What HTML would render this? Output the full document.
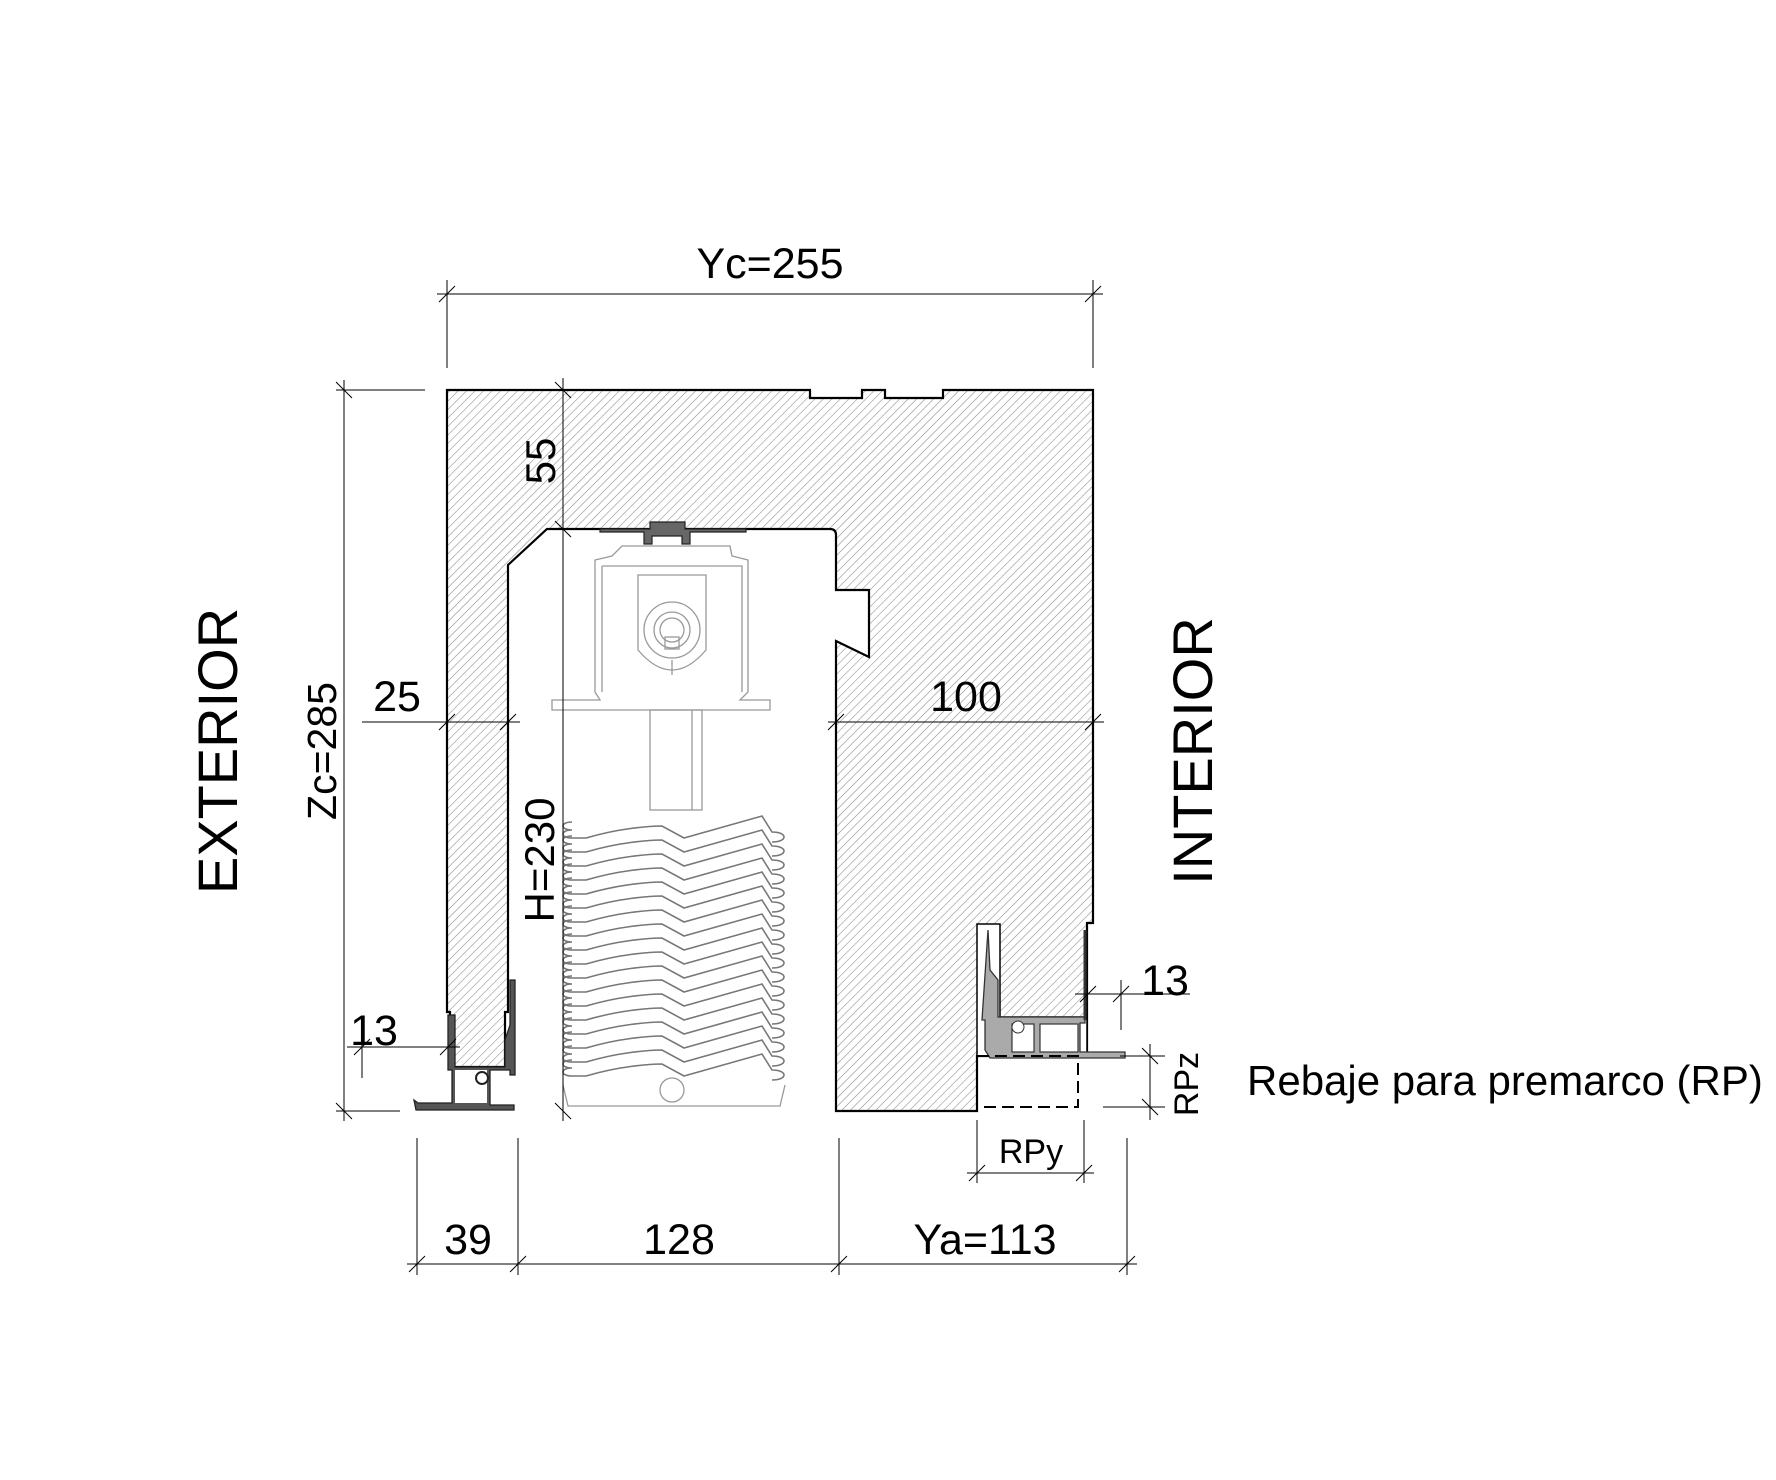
<!DOCTYPE html>
<html><head><meta charset="utf-8"><style>
html,body{margin:0;padding:0;background:#fff;}
svg{display:block;}
text{font-family:"Liberation Sans",Arial,sans-serif;fill:#000;}
</style></head><body>
<svg width="1776" height="1480" viewBox="0 0 1776 1480" xmlns="http://www.w3.org/2000/svg">
<defs>
<pattern id="h" width="6" height="6" patternUnits="userSpaceOnUse" patternTransform="rotate(45)">
<rect width="6" height="6" fill="#fff"/>
<line x1="0" y1="0" x2="0" y2="6" stroke="#8a8a8a" stroke-width="1.1"/>
</pattern>
<g id="slat">
<path d="M572,12 C560,12 560,4 572,4 M572,4 C560,4 560,-4 572,-4 M572,12 L586,12 C620,2 650,0 662,0 L684,12 L762,-10 L772,6 C788,6 788,16 772,16" fill="none" stroke="#777" stroke-width="1.6"/>
</g>
</defs>

<path d="M447,390 L810,390 L810,398 L862,398 L862,390 L885,390 L885,398 L943,398 L943,390 L1093,390 L1093,923 L1087,923 L1087,1056 L977,1056 L977,1111 L836,1111 L836,641 L869,657 L869,590 L836,590 L836,535 Q836,529 830,529 L547,529 L508,565 L508,1012 L505,1012 L505,1067 L450,1067 L450,1012 L447,1012 Z" fill="url(#h)" stroke="#000" stroke-width="2.2"/>
<path d="M977,924 L1000,924 L1000,1017 L1087,1017 L1087,1056 L977,1056 Z" fill="#fff" stroke="#000" stroke-width="1.5"/>
<path d="M988,930 L990,970 L998,980 L998,1017 L1085,1017 L1085,1023 L1080,1023 L1080,1052 L1100,1052 L1125,1052 L1125,1058 L990,1058 L985,1050 L985,1020 L982,1020 Z" fill="#aaa" stroke="#333" stroke-width="1.3"/>
<rect x="1012" y="1024" width="22" height="28" fill="#fff" stroke="#333" stroke-width="1.2"/>
<rect x="1040" y="1024" width="38" height="28" fill="#fff" stroke="#333" stroke-width="1.2"/>
<circle cx="1018" cy="1027" r="6" fill="#fff" stroke="#333"/>
<line x1="1085" y1="930" x2="1085" y2="1020" stroke="#333" stroke-width="3"/>
<path d="M977,1056 L1078,1056 L1078,1107 L977,1107" fill="none" stroke="#000" stroke-width="2" stroke-dasharray="12,6"/>

<path d="M448,1015 L455,1015 L455,1067 L505,1067 L505,1040 L510,1025 L510,980 L515,980 L515,1075 L510,1075 L510,1070 L490,1070 L490,1105 L514,1105 L514,1110 L416,1110 L414,1100 L418,1103 L452,1103 L452,1070 L448,1070 Z" fill="#555" stroke="#222" stroke-width="1.3"/>
<rect x="455" y="1070" width="32" height="33" fill="#fff"/>
<circle cx="482" cy="1078" r="6" fill="#fff" stroke="#222" stroke-width="2"/>

<g fill="none" stroke="#999" stroke-width="1.3">
<path d="M622,546 L730,546 L732,556 L748,560 L748,692 L740,700 L770,700 L770,710 L552,710 L552,700 L600,700 L595,692 L595,560 L612,556 Z"/>
<path d="M602,566 L742,566 L742,692 M602,566 L602,692"/>
<path d="M638,575 L706,575 L706,650 Q672,690 638,650 Z"/>
<circle cx="672" cy="630" r="28"/><circle cx="672" cy="630" r="18"/><circle cx="672" cy="630" r="12"/>
<rect x="665" y="637" width="14" height="12"/>
<line x1="672" y1="660" x2="672" y2="675"/>
<rect x="650" y="710" width="52" height="100"/>
<line x1="692" y1="710" x2="692" y2="810"/>
</g>
<path d="M600,529 L650,529 L650,522 L685,522 L685,529 L746,529 L746,532 L690,532 L690,544 L682,544 L682,536 L652,536 L652,544 L644,544 L644,532 L600,532 Z" fill="#666" stroke="#222" stroke-width="1.2"/>

<g>
<use href="#slat" y="826"/><use href="#slat" y="840"/><use href="#slat" y="854"/><use href="#slat" y="868"/>
<use href="#slat" y="882"/><use href="#slat" y="896"/><use href="#slat" y="910"/><use href="#slat" y="924"/>
<use href="#slat" y="938"/><use href="#slat" y="952"/><use href="#slat" y="966"/><use href="#slat" y="980"/>
<use href="#slat" y="994"/><use href="#slat" y="1008"/><use href="#slat" y="1022"/><use href="#slat" y="1036"/>
<use href="#slat" y="1050"/><use href="#slat" y="1064"/>
</g>
<path d="M563,1085 L568,1106 L780,1106 L785,1085" fill="none" stroke="#999" stroke-width="1.3"/>
<circle cx="672" cy="1090" r="12" fill="none" stroke="#999" stroke-width="1.3"/>

<g stroke="#000" stroke-width="1" fill="none">
<line x1="437" y1="294" x2="1103" y2="294"/>
<line x1="447" y1="280" x2="447" y2="368"/><line x1="1093" y1="280" x2="1093" y2="368"/>
<line x1="439" y1="302" x2="455" y2="286"/><line x1="1085" y1="302" x2="1101" y2="286"/>
<line x1="344" y1="380" x2="344" y2="1121"/>
<line x1="336" y1="390" x2="425" y2="390"/><line x1="336" y1="1111" x2="400" y2="1111"/>
<line x1="336" y1="382" x2="352" y2="398"/><line x1="336" y1="1103" x2="352" y2="1119"/>
<line x1="563" y1="378" x2="563" y2="1121"/>
<line x1="555" y1="382" x2="571" y2="398"/><line x1="555" y1="521" x2="571" y2="537"/><line x1="555" y1="1103" x2="571" y2="1119"/>
<line x1="362" y1="722" x2="520" y2="722"/>
<line x1="439" y1="730" x2="455" y2="714"/><line x1="500" y1="730" x2="516" y2="714"/>
<line x1="828" y1="722" x2="1104" y2="722"/>
<line x1="828" y1="730" x2="844" y2="714"/><line x1="1085" y1="730" x2="1101" y2="714"/>
<line x1="347" y1="1047" x2="460" y2="1047"/>
<line x1="362" y1="1036" x2="362" y2="1078"/>
<line x1="354" y1="1055" x2="370" y2="1039"/><line x1="440" y1="1055" x2="456" y2="1039"/>
<line x1="1075" y1="994" x2="1190" y2="994"/>
<line x1="1121" y1="980" x2="1121" y2="1030"/>
<line x1="1080" y1="1002" x2="1096" y2="986"/><line x1="1113" y1="1002" x2="1129" y2="986"/>
<line x1="1120" y1="1056" x2="1165" y2="1056"/><line x1="1103" y1="1107" x2="1165" y2="1107"/>
<line x1="1150" y1="1044" x2="1150" y2="1120"/>
<line x1="1142" y1="1048" x2="1158" y2="1064"/><line x1="1142" y1="1099" x2="1158" y2="1115"/>
<line x1="977" y1="1120" x2="977" y2="1183"/><line x1="1084" y1="1120" x2="1084" y2="1183"/>
<line x1="967" y1="1173" x2="1094" y2="1173"/>
<line x1="969" y1="1181" x2="985" y2="1165"/><line x1="1076" y1="1181" x2="1092" y2="1165"/>
<line x1="407" y1="1264" x2="1137" y2="1264"/>
<line x1="417" y1="1138" x2="417" y2="1275"/><line x1="518" y1="1138" x2="518" y2="1275"/>
<line x1="839" y1="1138" x2="839" y2="1275"/><line x1="1127" y1="1138" x2="1127" y2="1275"/>
<line x1="409" y1="1272" x2="425" y2="1256"/><line x1="510" y1="1272" x2="526" y2="1256"/>
<line x1="831" y1="1272" x2="847" y2="1256"/><line x1="1119" y1="1272" x2="1135" y2="1256"/>
</g>

<text x="770" y="278" font-size="43" text-anchor="middle">Yc=255</text>
<text x="397" y="711" font-size="43" text-anchor="middle">25</text>
<text x="966" y="711" font-size="43" text-anchor="middle">100</text>
<text x="374" y="1045" font-size="43" text-anchor="middle">13</text>
<text x="1165" y="995" font-size="43" text-anchor="middle">13</text>
<text x="1031" y="1163" font-size="34" text-anchor="middle">RPy</text>
<text x="468" y="1254" font-size="43" text-anchor="middle">39</text>
<text x="679" y="1254" font-size="43" text-anchor="middle">128</text>
<text x="985" y="1254" font-size="43" text-anchor="middle">Ya=113</text>
<text x="1247" y="1095" font-size="42">Rebaje para premarco (RP)</text>
<text transform="translate(336,751) rotate(-90)" font-size="41" text-anchor="middle">Zc=285</text>
<text transform="translate(237,751) rotate(-90)" font-size="56" text-anchor="middle">EXTERIOR</text>
<text transform="translate(1212,751) rotate(-90)" font-size="56" text-anchor="middle">INTERIOR</text>
<text transform="translate(554,860) rotate(-90)" font-size="42" text-anchor="middle">H=230</text>
<text transform="translate(555,461) rotate(-90)" font-size="42" text-anchor="middle">55</text>
<text transform="translate(1198,1084) rotate(-90)" font-size="34" text-anchor="middle">RPz</text>
</svg>
</body></html>
